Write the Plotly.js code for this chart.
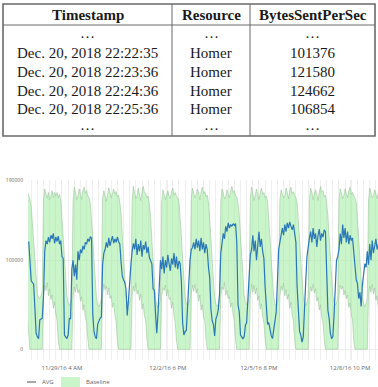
<!DOCTYPE html>
<html>
<head>
<meta charset="utf-8">
<script src="https://cdn.plot.ly/plotly-3.0.1.min.js"></script>
<style>html,body{margin:0;padding:0;background:#fff}#chart{width:378px;height:387px}</style>
</head>
<body>
<div id="chart"></div>
<script>
// ---------- table data ----------
const tableHeaders = ['Timestamp', 'Resource', 'BytesSentPerSec'];
const tableTimestamps = ['…', 'Dec. 20, 2018 22:22:35', 'Dec. 20, 2018 22:23:36', 'Dec. 20, 2018 22:24:36', 'Dec. 20, 2018 22:25:36', '…'];
const tableResources = ['…', 'Homer', 'Homer', 'Homer', 'Homer', '…'];
const tableBytes = ['…', '101376', '121580', '124662', '106854', '…'];

// ---------- chart data (hourly, starting 2016-11-28 00:00) ----------
const seriesStart = '2016-11-28T00:00:00Z';
const xTickVals = ['2016-11-29 04:00', '2016-12-02 18:00', '2016-12-05 20:00', '2016-12-08 22:00'];
const xTickText = ['11/29/16 4 AM', '12/2/16 6 PM', '12/5/16 8 PM', '12/8/16 10 PM'];
const yTickVals = [0, 100000, 190000];
const yTickText = ['0', '100000', '190000'];

const avgValues = [null,
121000,95000,77000,75000,73000,46000,18000,14000,12000,33000,34000,35000,60000,110000,122000,118000,126000,120000,128000,124000,130000,119000,126000,
121000,127000,118000,122000,104000,102000,16000,14000,12000,16000,35000,34000,90000,100000,82000,95000,78000,110000,100000,112000,108000,116000,112000,120000,
118000,124000,121000,126000,125000,40000,20000,14000,12000,28000,32000,35000,36000,95000,108000,112000,120000,114000,125000,116000,122000,127000,119000,124000,
120000,126000,121000,118000,98000,82000,78000,75000,68000,38000,55000,80000,95000,110000,119000,112000,124000,106000,118000,110000,122000,104000,117000,112000,
121000,108000,115000,103000,100000,96000,68000,66000,40000,18000,40000,70000,100000,90000,104000,85000,100000,92000,106000,96000,88000,102000,95000,108000,
92000,104000,90000,99000,96000,76000,30000,16000,20000,21000,50000,83000,100000,112000,114000,120000,112000,124000,114000,122000,110000,125000,112000,120000,
108000,118000,112000,92000,80000,45000,32000,28000,15000,34000,38000,45000,62000,108000,118000,130000,124000,138000,132000,142000,136000,140000,138000,141000,
139000,141000,120000,50000,42000,16000,14000,12000,14000,27000,30000,55000,88000,106000,112000,128000,110000,122000,100000,118000,132000,115000,124000,110000,
102000,70000,45000,28000,30000,20000,15000,12000,22000,30000,42000,75000,112000,120000,130000,136000,128000,140000,132000,142000,136000,143000,138000,134000,
140000,132000,120000,70000,40000,20000,16000,8000,14000,38000,76000,104000,118000,125000,132000,120000,136000,124000,130000,115000,128000,135000,122000,130000,
126000,134000,132000,70000,44000,35000,18000,12000,14000,38000,72000,100000,104000,112000,130000,118000,140000,125000,136000,120000,132000,118000,128000,122000,
125000,108000,85000,78000,74000,57000,64000,48000,72000,88000,96000,92000,110000,95000,118000,100000,122000,108000,116000,124000,112000,118000];

const baselineUpper = [
176000,172000,168000,160000,140000,115000,92000,72000,62000,58000,57000,60000,66000,168000,180000,174000,170000,176000,168000,172000,178000,170000,176000,172000,
176000,170000,174000,166000,150000,126000,102000,80000,60000,52000,49000,52000,58000,166000,182000,176000,168000,172000,180000,174000,168000,178000,182000,175000,
178000,172000,170000,164000,148000,124000,100000,76000,58000,50000,48000,51000,57000,170000,178000,172000,166000,174000,181000,176000,170000,175000,180000,174000,
177000,171000,173000,165000,152000,128000,103000,79000,60000,53000,50000,53000,59000,167000,183000,175000,169000,172000,181000,173000,167000,176000,183000,176000,
175000,170000,172000,163000,148000,122000,98000,75000,57000,50000,47000,50000,56000,165000,179000,174000,168000,173000,178000,172000,169000,177000,181000,173000,
176000,172000,170000,166000,150000,126000,101000,78000,59000,52000,49000,52000,58000,168000,181000,175000,170000,174000,180000,175000,168000,176000,182000,175000,
177000,171000,173000,165000,149000,124000,99000,76000,58000,51000,48000,51000,57000,166000,180000,176000,169000,171000,179000,174000,170000,178000,183000,176000,
178000,172000,171000,164000,151000,127000,102000,79000,60000,53000,50000,53000,60000,169000,182000,175000,167000,173000,180000,173000,168000,175000,181000,174000,
176000,170000,172000,166000,150000,125000,100000,77000,58000,51000,48000,52000,58000,167000,179000,174000,170000,172000,181000,176000,169000,177000,182000,175000,
177000,173000,170000,165000,148000,123000,99000,76000,59000,52000,49000,53000,59000,168000,181000,176000,168000,174000,179000,174000,167000,176000,183000,176000,
178000,171000,173000,164000,150000,126000,101000,78000,60000,53000,50000,52000,58000,166000,180000,175000,169000,173000,180000,175000,170000,178000,182000,174000,
176000,172000,170000,165000,149000,125000,100000,77000,58000,51000,48000,51000,57000,167000,181000,176000,170000,172000,179000,174000,169000,177000];

const baselineLower = [
35000,15000,0,0,0,0,0,0,0,0,0,0,0,62000,72000,66000,75000,60000,68000,56000,61000,46000,53000,40000,
32000,10000,0,0,0,0,0,0,0,0,0,0,0,58000,70000,64000,73000,63000,67000,54000,59000,44000,50000,36000,
30000,12000,0,0,0,0,0,0,0,0,0,0,0,61000,73000,67000,71000,61000,69000,57000,60000,47000,52000,39000,
31000,9000,0,0,0,0,0,0,0,0,0,0,0,60000,71000,65000,74000,62000,66000,55000,62000,45000,51000,37000,
33000,11000,0,0,0,0,0,0,0,0,0,0,0,59000,69000,66000,72000,60000,67000,56000,58000,46000,53000,38000,
30000,10000,0,0,0,0,0,0,0,0,0,0,0,62000,72000,65000,73000,63000,68000,54000,61000,44000,50000,36000,
32000,12000,0,0,0,0,0,0,0,0,0,0,0,60000,70000,67000,75000,61000,66000,57000,59000,47000,52000,39000,
31000,10000,0,0,0,0,0,0,0,0,0,0,0,61000,73000,64000,72000,62000,69000,55000,60000,45000,51000,37000,
30000,11000,0,0,0,0,0,0,0,0,0,0,0,59000,71000,66000,74000,60000,67000,56000,62000,46000,53000,38000,
32000,9000,0,0,0,0,0,0,0,0,0,0,0,62000,70000,65000,73000,63000,68000,54000,58000,44000,50000,36000,
31000,12000,0,0,0,0,0,0,0,0,0,0,0,60000,72000,67000,71000,61000,66000,57000,61000,47000,52000,39000,
33000,10000,0,0,0,0,0,0,0,0,0,0,0,61000,71000,64000,73000,62000,69000,55000,60000,45000];

// ---------- build ----------
const t0 = Date.parse(seriesStart);
function hourStamp(i) {
  return new Date(t0 + i * 3600000).toISOString().slice(0, 16).replace('T', ' ');
}
const xTimes = avgValues.map((_, i) => hourStamp(i));

const W = 378, H = 387;
const px = X => X / W;
const py = Y => 1 - Y / H;

const traces = [
  { x: xTimes, y: baselineLower, type: 'scatter', mode: 'lines',
    line: { color: 'rgba(150,190,150,0.75)', width: 0.7 }, showlegend: false, hoverinfo: 'skip' },
  { x: xTimes, y: baselineUpper, type: 'scatter', mode: 'lines', name: 'Baseline',
    fill: 'tonexty', fillcolor: 'rgba(150,235,150,0.5)',
    line: { color: 'rgba(150,190,150,0.75)', width: 0.7 }, showlegend: false, hoverinfo: 'skip' },
  { x: xTimes, y: avgValues, type: 'scatter', mode: 'lines', name: 'AVG',
    line: { color: '#2a78b5', width: 1.2 }, connectgaps: false, showlegend: false, hoverinfo: 'skip' }
];

const serif = 'Liberation Serif, Times New Roman, serif';
const annotations = [];
const colCenters = [87.5, 211, 312.5];
tableHeaders.forEach((h, c) => annotations.push({
  xref: 'paper', yref: 'paper', x: px(colCenters[c]), y: py(15), xanchor: 'center', yanchor: 'middle',
  text: '<b>' + h + '</b>', showarrow: false, font: { family: serif, size: 15, color: '#1a1a1a' }
}));
const rowY = [33, 53.5, 72, 90.5, 109, 125];
[tableTimestamps, tableResources, tableBytes].forEach((col, c) => col.forEach((v, r) => annotations.push({
  xref: 'paper', yref: 'paper', x: px(colCenters[c]), y: py(rowY[r]), xanchor: 'center', yanchor: 'middle',
  text: v, showarrow: false, font: { family: serif, size: 15, color: '#1a1a1a' }
})));
// legend labels
annotations.push({ xref: 'paper', yref: 'paper', x: px(40), y: py(382), xanchor: 'left', yanchor: 'middle',
  text: 'AVG', showarrow: false, font: { family: 'Open Sans', size: 6, color: '#666' } });
annotations.push({ xref: 'paper', yref: 'paper', x: px(84), y: py(382), xanchor: 'left', yanchor: 'middle',
  text: 'Baseline', showarrow: false, font: { family: 'Open Sans', size: 6, color: '#666' } });

const tableLine = '#6a6a6a';
const shapes = [
  { type: 'rect', xref: 'paper', yref: 'paper', x0: px(3), x1: px(375), y0: py(4), y1: py(136),
    line: { color: tableLine, width: 1.6 }, fillcolor: 'rgba(0,0,0,0)' },
  { type: 'line', xref: 'paper', yref: 'paper', x0: px(3), x1: px(375), y0: py(25), y1: py(25),
    line: { color: tableLine, width: 1 } },
  { type: 'line', xref: 'paper', yref: 'paper', x0: px(172), x1: px(172), y0: py(4), y1: py(136),
    line: { color: tableLine, width: 1 } },
  { type: 'line', xref: 'paper', yref: 'paper', x0: px(250), x1: px(250), y0: py(4), y1: py(136),
    line: { color: tableLine, width: 1 } },
  // legend symbols
  { type: 'line', xref: 'paper', yref: 'paper', x0: px(27), x1: px(36), y0: py(382), y1: py(382),
    line: { color: '#555', width: 1 } },
  { type: 'rect', xref: 'paper', yref: 'paper', x0: px(61), x1: px(80), y0: py(377), y1: py(387),
    line: { width: 0 }, fillcolor: 'rgba(150,235,150,0.5)' }
];

const layout = {
  width: W, height: H,
  margin: { l: 0, r: 0, t: 0, b: 0 },
  paper_bgcolor: '#fff', plot_bgcolor: '#fff',
  showlegend: false,
  xaxis: {
    domain: [px(28), 1], type: 'date',
    range: ['2016-11-28 00:24', '2016-12-09 20:42'],
    tickmode: 'array', tickvals: xTickVals, ticktext: xTickText,
    showgrid: true, gridcolor: '#e8e8e8', gridwidth: 0.7,
    minor: { dtick: 5 * 3600000, tick0: '2016-11-29 04:00', showgrid: true, gridcolor: '#e8e8e8', gridwidth: 0.7 },
    ticks: '', showline: false, zeroline: false,
    tickfont: { family: 'Open Sans', size: 6, color: '#666' }, ticklabelstandoff: 3
  },
  yaxis: {
    domain: [py(360), py(180)],
    range: [-12000, 190000],
    tickmode: 'array', tickvals: yTickVals, ticktext: yTickText,
    showgrid: true, gridcolor: '#e8e8e8', gridwidth: 0.7,
    ticks: '', showline: false, zeroline: false,
    tickfont: { family: 'Open Sans', size: 5, color: '#666' }, ticklabelstandoff: 4
  },
  annotations: annotations,
  shapes: shapes
};

Plotly.newPlot('chart', traces, layout, { staticPlot: true, displayModeBar: false });
</script>
</body>
</html>
